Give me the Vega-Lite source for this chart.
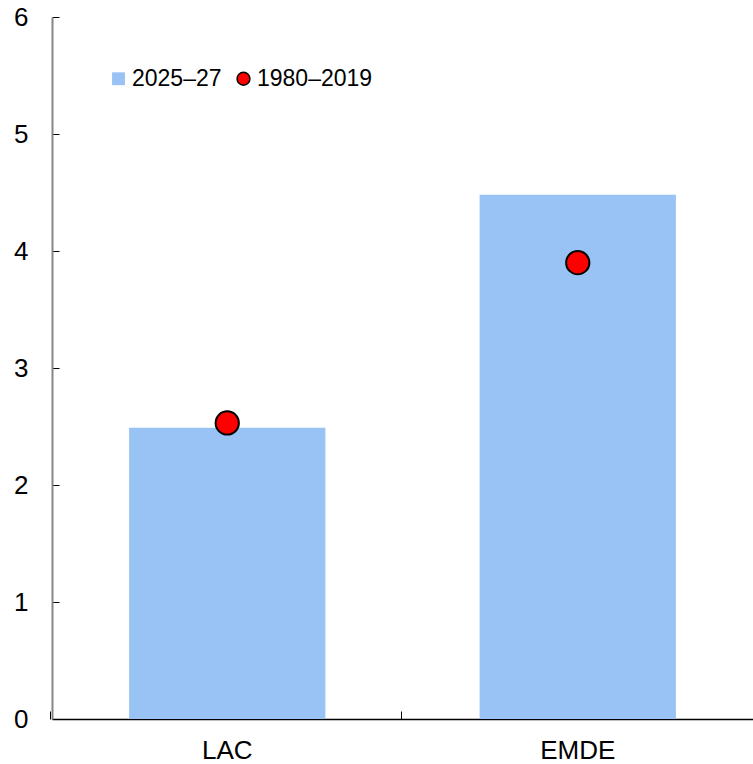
{
  "$schema": "https://vega.github.io/schema/vega-lite/v6.json",
  "width": 701,
  "height": 702,
  "autosize": {"type": "none"},
  "padding": {"left": 52, "top": 17, "right": 0, "bottom": 45},
  "background": "white",
  "config": {
    "view": {"stroke": null},
    "font": "Liberation Sans",
    "axis": {"labelFont": "Liberation Sans", "labelFontSize": 26, "labelColor": "black", "grid": false, "title": null}
  },
  "data": {
    "values": [
      {"cat": "LAC", "series": "2025–27", "value": 2.49},
      {"cat": "EMDE", "series": "2025–27", "value": 4.48},
      {"cat": "LAC", "series": "1980–2019", "value": 2.53},
      {"cat": "EMDE", "series": "1980–2019", "value": 3.90}
    ]
  },
  "encoding": {
    "x": {
      "field": "cat", "type": "nominal", "sort": ["LAC", "EMDE"],
      "scale": {"paddingInner": 0.44, "paddingOuter": 0.22},
      "axis": {
        "labelAngle": 0, "domainColor": "black", "domainWidth": 1.5,
        "tickColor": "black", "tickSize": -8, "tickWidth": 1, "bandPosition": -0.4,
        "labelPadding": 26, "labelFontSize": 26, "labelFont": "Liberation Sans"
      }
    },
    "y": {
      "field": "value", "type": "quantitative",
      "scale": {"domain": [0, 6], "nice": false},
      "axis": {
        "values": [0, 1, 2, 3, 4, 5, 6], "domainColor": "#868686", "domainWidth": 2,
        "tickColor": "black", "tickSize": -7, "tickWidth": 1,
        "labelPadding": 31, "labelFontSize": 26, "labelFont": "Liberation Sans"
      }
    },
    "color": {
      "field": "series", "type": "nominal",
      "scale": {"domain": ["2025–27", "1980–2019"], "range": ["#99C2F5", "#FF0000"]},
      "legend": {
        "title": null, "orient": "none", "legendX": 55, "legendY": 50,
        "direction": "horizontal", "labelFontSize": 23, "labelFont": "Liberation Sans",
        "labelColor": "black", "symbolSize": 165, "columnPadding": 10, "labelOffset": 2,
        "symbolOpacity": 1,
        "encode": {
          "symbols": {
            "update": {
              "shape": {"signal": "datum.value === '2025–27' ? 'square' : 'circle'"},
              "stroke": {"signal": "datum.value === '2025–27' ? 'transparent' : 'black'"},
              "strokeWidth": {"value": 1.5},
              "fill": {"signal": "datum.value === '2025–27' ? '#99C2F5' : '#FF0000'"},
              "opacity": {"value": 1}
            }
          }
        }
      }
    }
  },
  "layer": [
    {
      "transform": [{"filter": "datum.series === '2025–27'"}],
      "mark": {"type": "bar", "opacity": 1}
    },
    {
      "transform": [{"filter": "datum.series === '1980–2019'"}],
      "mark": {"type": "point", "filled": true, "size": 540, "stroke": "black", "strokeWidth": 2, "opacity": 1}
    }
  ]
}
